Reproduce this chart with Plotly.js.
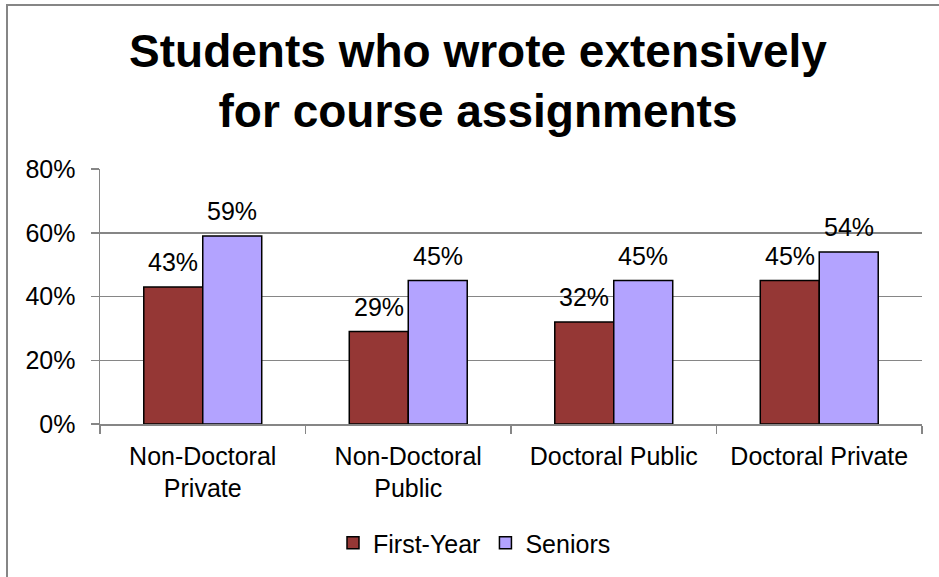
<!DOCTYPE html>
<html>
<head>
<meta charset="utf-8">
<script src="https://cdn.plot.ly/plotly-3.0.1.min.js"></script>
<style>
  html, body { margin: 0; padding: 0; background: #fff; }
  #wrap { position: relative; width: 939px; height: 577px; overflow: hidden; }
  #chart { width: 939px; height: 577px; }
  #frame { position: absolute; left: 6px; top: 4px; width: 960px; height: 600px;
           border-left: 2px solid #868686; border-top: 2px solid #868686;
           pointer-events: none; box-sizing: border-box; }
</style>
</head>
<body>
<div id="wrap">
<div id="chart"></div>
<div id="frame"></div>
</div>
<script>
const categories = ["Non-Doctoral<br>Private", "Non-Doctoral<br>Public", "Doctoral Public", "Doctoral Private"];
const firstYear = [43, 29, 32, 45];
const seniors = [59, 45, 45, 54];
const seriesNames = ["First-Year", "Seniors"];
const yTicks = [0, 20, 40, 60, 80];

const FONT = "Liberation Sans, Arial, sans-serif";
const W = 939, H = 577;
const M = { l: 100, r: 17, t: 169, b: 152 };
const plotW = W - M.l - M.r, plotH = H - M.t - M.b;
const px2x = p => (p - M.l) / plotW;
const px2y = p => (H - M.b - p) / plotH;
const BAR_HALF = 29.5;

const traces = [
  {
    type: "bar", name: seriesNames[0], x: categories, y: firstYear,
    marker: { color: "#953735", line: { color: "#000000", width: 1.5 } }
  },
  {
    type: "bar", name: seriesNames[1], x: categories, y: seniors,
    marker: { color: "#B3A3FF", line: { color: "#000000", width: 1.5 } }
  }
];

const labelAnns = [];
[[firstYear, -BAR_HALF], [seniors, BAR_HALF]].forEach(([vals, dx]) => {
  vals.forEach((v, i) => {
    labelAnns.push({
      xref: "x", yref: "y", x: categories[i], y: v,
      text: v + "%", showarrow: false, xanchor: "center", yanchor: "bottom",
      xshift: dx, yshift: 9,
      font: { family: FONT, size: 25, color: "#000" }
    });
  });
});

const layout = {
  width: W, height: H,
  margin: M,
  paper_bgcolor: "#ffffff", plot_bgcolor: "#ffffff",
  font: { family: FONT, size: 25, color: "#000" },
  title: {
    text: "<b>Students who wrote extensively<br>for course assignments</b>",
    font: { family: FONT, size: 46, color: "#000" },
    xref: "container", x: 478 / W, xanchor: "center",
    yref: "container", y: 1 - 67 / H, yanchor: "top"
  },
  barmode: "group",
  bargap: 0.426, bargroupgap: 0,
  xaxis: {
    type: "category", tickson: "boundaries", ticks: "outside", ticklen: 8,
    tickcolor: "#868686", tickwidth: 1.5, showgrid: false,
    showline: true, linecolor: "#868686", linewidth: 1.5,
    ticklabelstandoff: 9,
    tickfont: { family: FONT, size: 25, color: "#000" }, automargin: false
  },
  yaxis: {
    range: [0, 80], tickvals: yTicks, ticktext: yTicks.map(v => v + "%"),
    ticks: "outside", ticklen: 8, tickcolor: "#868686", tickwidth: 1.5,
    showgrid: true, gridcolor: "#868686", gridwidth: 1.5,
    showline: true, linecolor: "#868686", linewidth: 1.5, zeroline: false,
    ticklabelstandoff: 10,
    tickfont: { family: FONT, size: 25, color: "#000" }, automargin: false
  },
  showlegend: true,
  legend: {
    orientation: "h", x: px2x(333), xanchor: "left", y: px2y(543), yanchor: "middle",
    font: { family: FONT, size: 25, color: "#000" }, traceorder: "normal",
    bgcolor: "rgba(0,0,0,0)"
  },
  annotations: labelAnns
};

Plotly.newPlot("chart", traces, layout, { displayModeBar: false, staticPlot: true });
</script>
</body>
</html>
